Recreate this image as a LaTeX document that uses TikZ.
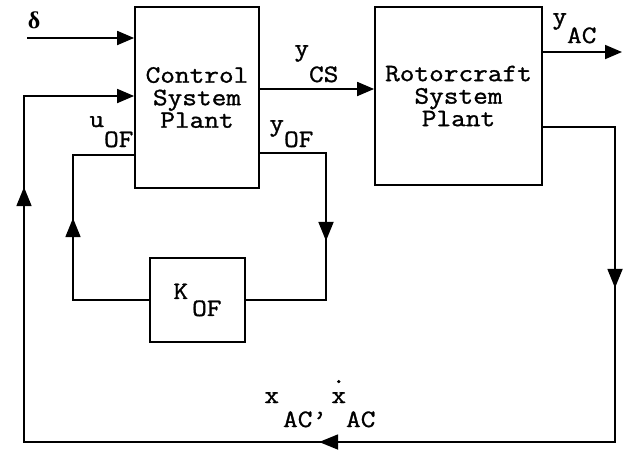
\documentclass[tikz,border=0pt]{standalone}
\usepackage{fontspec}
\newfontfamily\cour{Latin Modern Mono}[FakeStretch=1.14,FakeBold=1.2]
\newfontfamily\grk{Liberation Serif}
\usetikzlibrary{arrows.meta,decorations.markings}
\newcommand{\lsub}[3][20pt]{#2\raisebox{-#1}{#3}}
\tikzset{
  endtip/.tip={Triangle[length=17pt,width=14pt]},
  midtip/.tip={Triangle[length=19pt,width=15pt]},
  blockbox/.style={draw, rectangle, inner sep=0pt, align=center,
    font=\cour\fontsize{25}{22.5}\selectfont},
  lbl/.style={inner sep=0pt, anchor=base west, font=\cour\fontsize{25}{25}\selectfont},
  tipmark/.style={decoration={markings, mark=at position #1 with {\arrow{midtip}}}},
  conn/.style={line width=1.8pt},
}
\begin{document}
\begin{tikzpicture}[x=1pt, y=-1pt, line width=1.8pt]
\useasboundingbox (0,0) rectangle (626,451);

% blocks
\node[blockbox, minimum width=124pt, minimum height=181pt] (CSP) at (197,97.5) {Control\\System\\Plant};
\node[blockbox, minimum width=167pt, minimum height=178pt] (RSP) at (458.5,96) {Rotorcraft\\System\\Plant};
\node[blockbox, minimum width=95pt, minimum height=84pt] (K) at (197.5,300) {\lsub[17pt]{K}{\hspace{4pt}OF}};

% coordinates
\coordinate (din) at (27,38);
\coordinate (fbin) at (24,96);
\coordinate (fbL) at (24,442);
\coordinate (fbR) at (615,127);
\coordinate (ycs) at (300,89);
\coordinate (yac) at (622,52);
\coordinate (uof) at (73,155);
\coordinate (yof) at (326,153);

% connectors
\draw[conn, -{endtip}] (din) -- (din -| CSP.west);
\draw[conn, -{endtip}] (CSP.east |- ycs) -- (RSP.west |- ycs);
\draw[conn, -{endtip}] (RSP.east |- yac) -- (yac);
\draw[conn, -{endtip}, postaction={decorate}, tipmark=233pt, tipmark=683pt, tipmark=1233pt]
  (RSP.east |- fbR) -- (fbR) |- (fbL) -- (fbin) -- (fbin -| CSP.west);
\draw[conn, postaction={decorate}, tipmark=158pt]
  (K.west) -| (uof) -- (uof -| CSP.west);
\draw[conn, postaction={decorate}, tipmark=154pt]
  (CSP.east |- yof) -| (K.east -| yof) -- (K.east);

% labels
\node[inner sep=0pt, font=\grk\bfseries\fontsize{24}{24}\selectfont] (dL) at (34,20) {δ};
\node[lbl] (ycsL) at (293.5,56) {\lsub[26pt]{y}{CS}};
\node[lbl] (uofL) at (88.5,127) {\lsub[20pt]{u}{OF}};
\node[lbl] (yofL) at (268.5,131) {\lsub[16pt]{y}{OF}};
\node[lbl] (yacL) at (551.5,24) {\lsub[19pt]{y}{AC}};
\node[lbl] (xL) at (263.5,403) {\lsub[24pt]{x}{\hspace{4pt}AC’}};
\node[lbl] (xdL) at (330.5,403) {\lsub[24pt]{\rlap{\raisebox{20pt}{.}}x}{AC}};
\end{tikzpicture}
\end{document}
